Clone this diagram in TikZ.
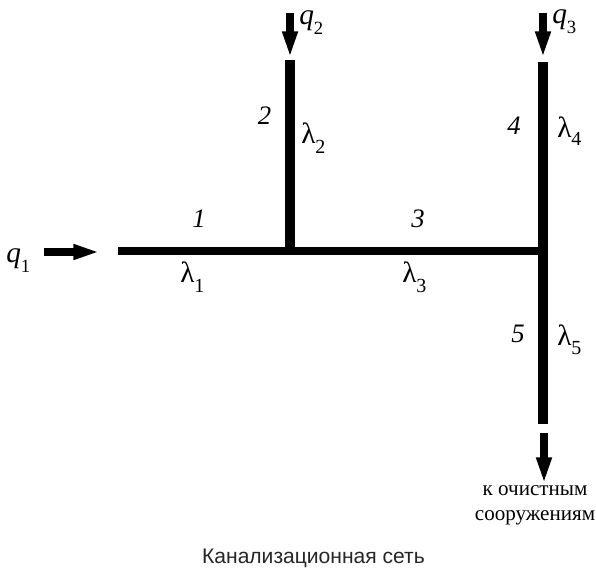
\documentclass[tikz,border=0pt]{standalone}
\usepackage{fontspec}
\setmainfont{Liberation Serif}
\newfontfamily\capfont{Liberation Sans}
\usetikzlibrary{arrows.meta}
% lowered index beside q and lambda
\newcommand{\lowindex}[3]{\raisebox{-#1}{\fontsize{#2}{#2}\selectfont #3}}

\begin{document}
\begin{tikzpicture}[
		x=0.75pt,
		y=-0.75pt,
		pipeh/.style={line width=6pt},
		pipev/.style={line width=7.2pt},
		flow/.style={line width=6pt, -{Triangle[length=20pt, width=10.5pt]}},
		numlabel/.style={font=\fontsize{20pt}{22pt}\selectfont\itshape, inner sep=0pt},
		qlabel/.style={font=\fontsize{22pt}{24pt}\selectfont\itshape, anchor=base west, inner sep=0pt},
		lamlabel/.style={font=\fontsize{22pt}{24pt}\selectfont, anchor=base west, inner sep=0pt},
		smalltext/.style={font=\fontsize{15.8pt}{18.7pt}\selectfont, align=center, inner sep=0pt}
		]
		\useasboundingbox (0,0) rectangle (596,572);
		
		% Junctions and pipe ends
		\coordinate (start1) at (118,251);
		\coordinate (junction2) at (290,251);
		\coordinate (junction4) at (543,251);
		\coordinate (top2) at (290,60);
		\coordinate (top4) at (543,62);
		\coordinate (end5) at (543,424);
		
		% Pipes
		\draw[pipeh] (start1) -- (junction4);
		\draw[pipev] (top2) -- (junction2);
		\draw[pipev] (top4) -- (end5);
		
		% Inflows and outflow
		\coordinate (in1) at (44,252);
		\coordinate (tip1) at (100,252);
		\coordinate (in2) at (290,13);
		\coordinate (tip2) at (290,58);
		\coordinate (in3) at (543,13);
		\coordinate (tip3) at (543,58);
		\coordinate (out5) at (544,433);
		\coordinate (tip5) at (544,484);
		\draw[flow] (in1) -- (tip1);
		\draw[flow] (in2) -- (tip2);
		\draw[flow] (in3) -- (tip3);
		\draw[flow] (out5) -- (tip5);
		
		% Flow labels
		\node[qlabel] (q1) at (6,262) {q\lowindex{8pt}{14pt}{\upshape 1}};
		\node[qlabel] (q2) at (299,24) {q\lowindex{7.5pt}{14pt}{\upshape 2}};
		\node[qlabel] (q3) at (552,23) {q\lowindex{7.5pt}{14pt}{\upshape 3}};
		
		% Pipe numbers
		\node[numlabel] (num1) at (199,219) {1};
		\node[numlabel] (num2) at (264.5,116) {2};
		\node[numlabel] (num3) at (418,219) {3};
		\node[numlabel] (num4) at (514,126) {4};
		\node[numlabel] (num5) at (518,334) {5};
		
		% Lambda labels
		\node[lamlabel] (lam1) at (180,282) {λ\lowindex{8pt}{15pt}{1}};
		\node[lamlabel] (lam2) at (301,143) {λ\lowindex{8pt}{15pt}{2}};
		\node[lamlabel] (lam3) at (402,282) {λ\lowindex{8pt}{15pt}{3}};
		\node[lamlabel] (lam4) at (557,137) {λ\lowindex{6pt}{15pt}{4}};
		\node[lamlabel] (lam5) at (557,345) {λ\lowindex{7pt}{15pt}{5}};
		
		% Captions
		\node[smalltext] (dest) at (535,505.5) {к очистным\\сооружениям};
		\node[font=\capfont\fontsize{15.8pt}{18pt}\selectfont, text=black!85, inner sep=0pt] (caption) at (313.5,558) {Канализационная сеть};
		
	\end{tikzpicture}
\end{document}
